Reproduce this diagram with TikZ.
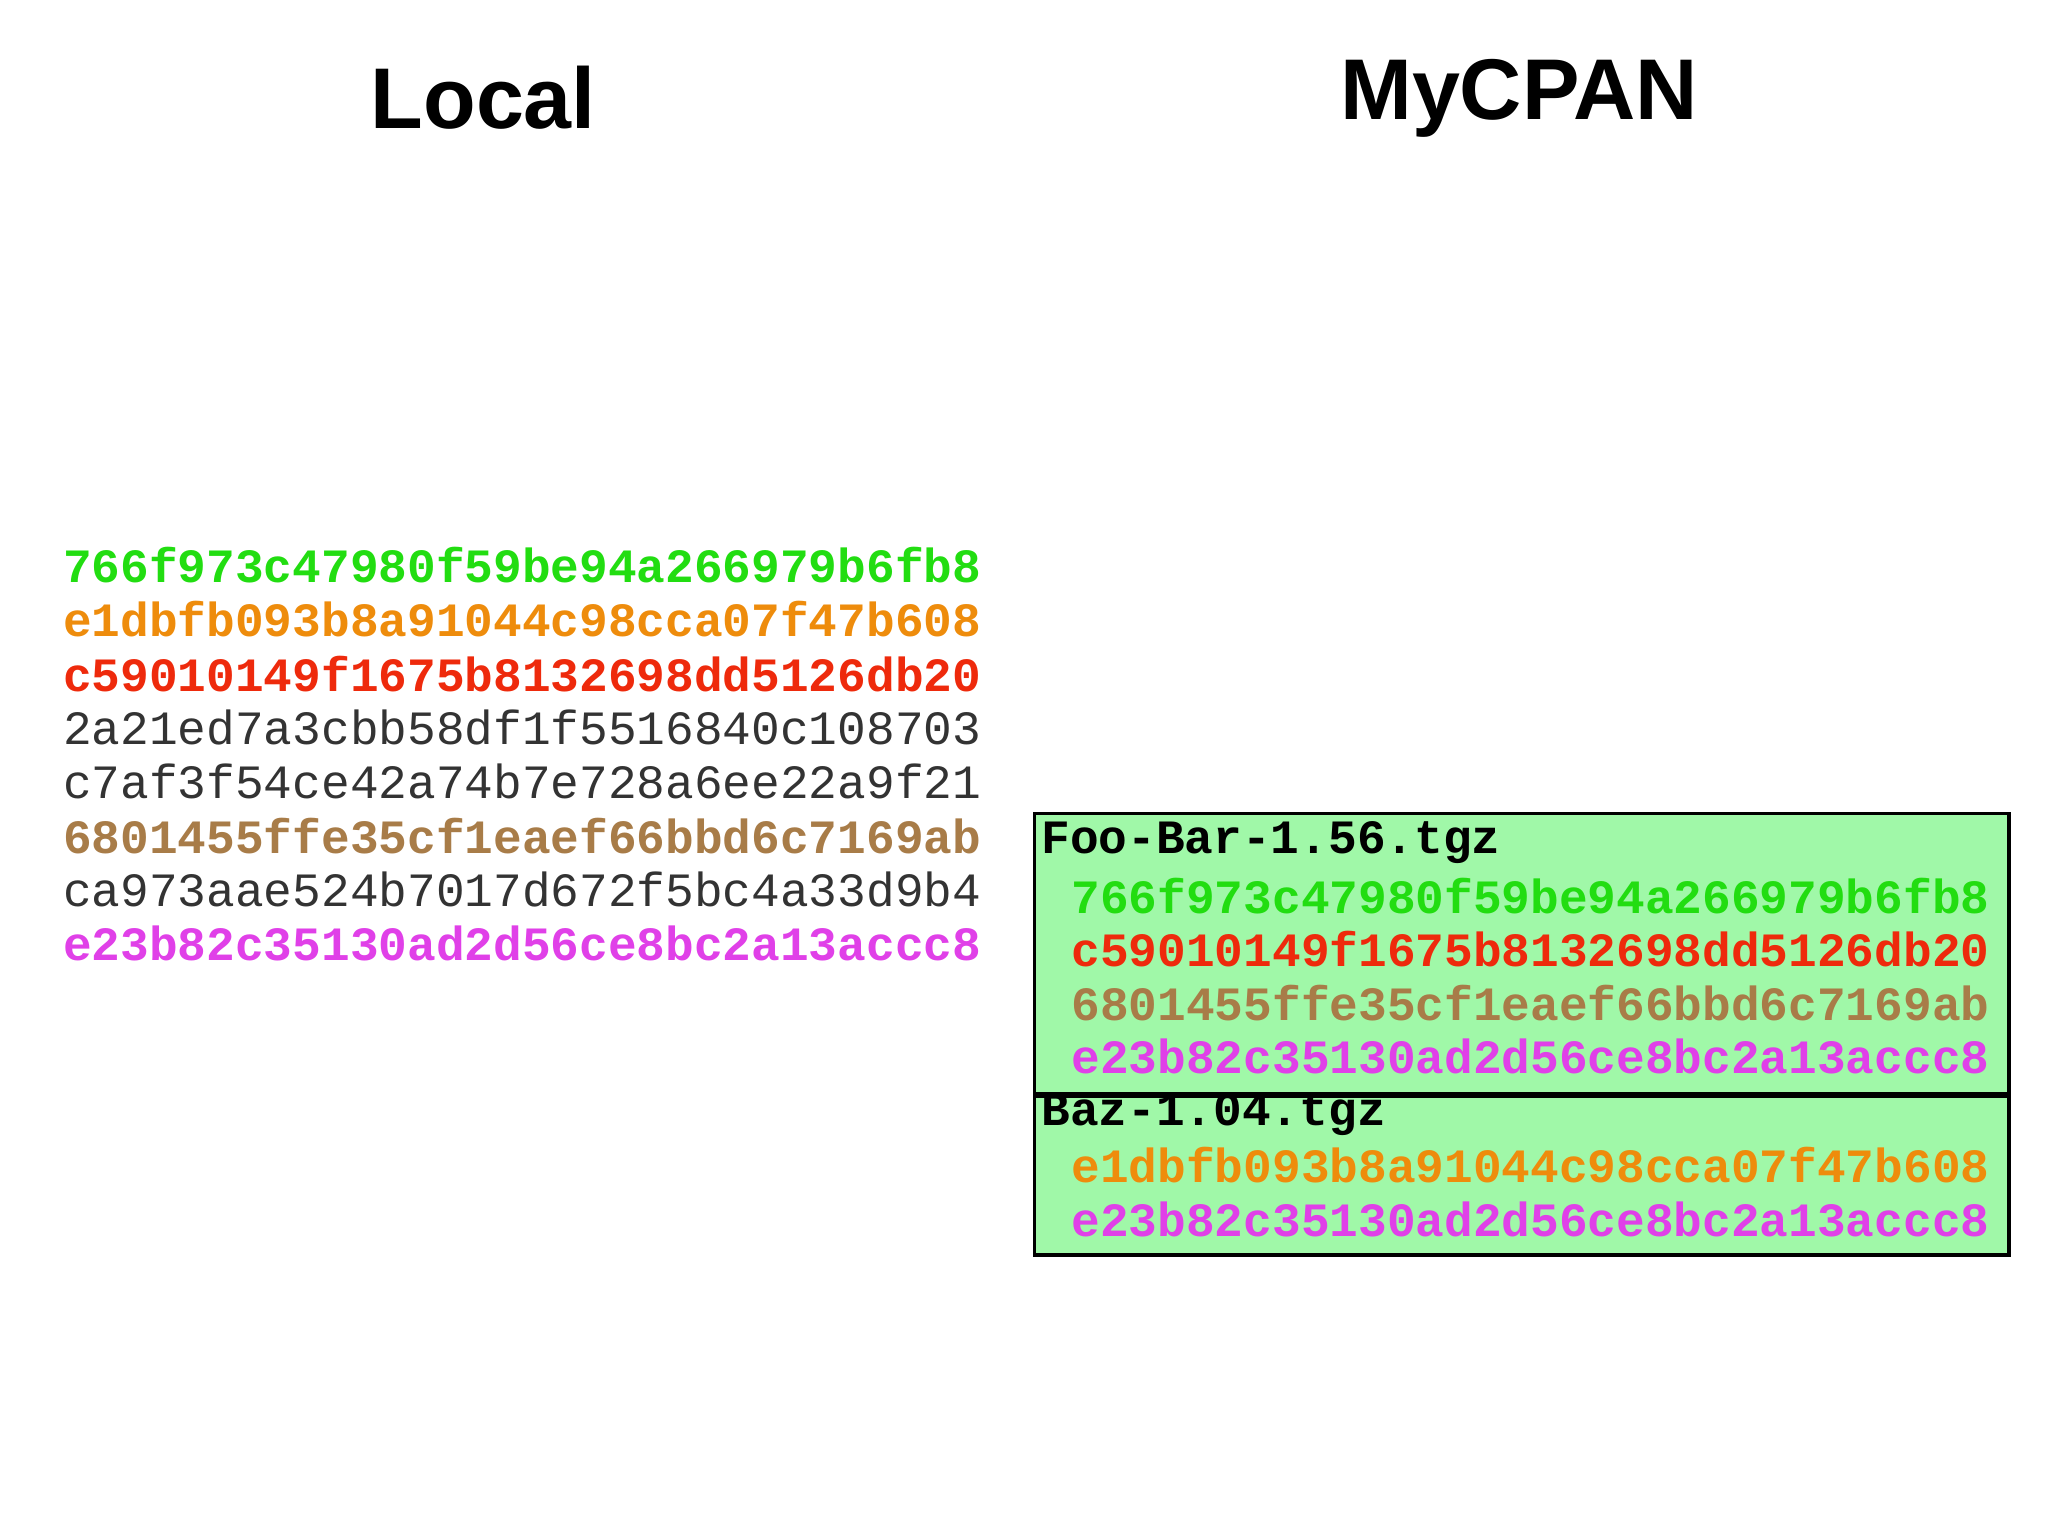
\documentclass[tikz,border=0pt]{standalone}
\usepackage{fontspec}
\setmainfont{Liberation Sans}
\newfontfamily\hashfont{Liberation Mono}
\definecolor{hgreen}{HTML}{22DD11}
\definecolor{horange}{HTML}{EE8C0C}
\definecolor{hred}{HTML}{EE2A0C}
\definecolor{hgray}{HTML}{333333}
\definecolor{hbrown}{HTML}{A87C48}
\definecolor{hmag}{HTML}{E040E8}
\definecolor{boxfill}{HTML}{A0F8A8}
\begin{document}
\begin{tikzpicture}[x=0.5pt,y=-0.5pt,
  hash/.style={anchor=west,inner sep=0pt,font=\hashfont\fontsize{18.3pt}{20pt}\selectfont},
  bh/.style={hash,font=\hashfont\bfseries\fontsize{18.3pt}{20pt}\selectfont},
  title/.style={font=\bfseries\fontsize{33pt}{36pt}\selectfont},
  pkg/.style={draw=black,line width=1.3pt,fill=boxfill}]
\useasboundingbox (0,0) rectangle (1568,1176);
\node[title] (tl) at (370,75) {Local};
\node[title] (tm) at (1163,75) {MyCPAN};
\node[bh,hgreen] (l1) at (48,433) {766f973c47980f59be94a266979b6fb8};
\node[bh,horange] (l2) at (48,474) {e1dbfb093b8a91044c98cca07f47b608};
\node[bh,hred] (l3) at (48,516) {c59010149f1675b8132698dd5126db20};
\node[hash,hgray] (l4) at (48,557) {2a21ed7a3cbb58df1f5516840c108703};
\node[hash,hgray] (l5) at (48,598) {c7af3f54ce42a74b7e728a6ee22a9f21};
\node[bh,hbrown] (l6) at (48,640) {6801455ffe35cf1eaef66bbd6c7169ab};
\node[hash,hgray] (l7) at (48,681) {ca973aae524b7017d672f5bc4a33d9b4};
\node[bh,hmag] (l8) at (48,722) {e23b82c35130ad2d56ce8bc2a13accc8};
\draw[pkg] (792,623) rectangle (1538,837);
\draw[pkg] (792,839) rectangle (1538,961);
\node[bh,black] (f0) at (797,645) {Foo-Bar-1.56.tgz};
\node[bh,hgreen] (f1) at (820,686) {766f973c47980f59be94a266979b6fb8};
\node[bh,hred] (f2) at (820,727) {c59010149f1675b8132698dd5126db20};
\node[bh,hbrown] (f3) at (820,768) {6801455ffe35cf1eaef66bbd6c7169ab};
\node[bh,hmag] (f4) at (820,809) {e23b82c35130ad2d56ce8bc2a13accc8};
\node[bh,black] (b0) at (797,853) {Baz-1.04.tgz};
\node[bh,horange] (b1) at (820,892) {e1dbfb093b8a91044c98cca07f47b608};
\node[bh,hmag] (b2) at (820,934) {e23b82c35130ad2d56ce8bc2a13accc8};
\end{tikzpicture}
\end{document}
